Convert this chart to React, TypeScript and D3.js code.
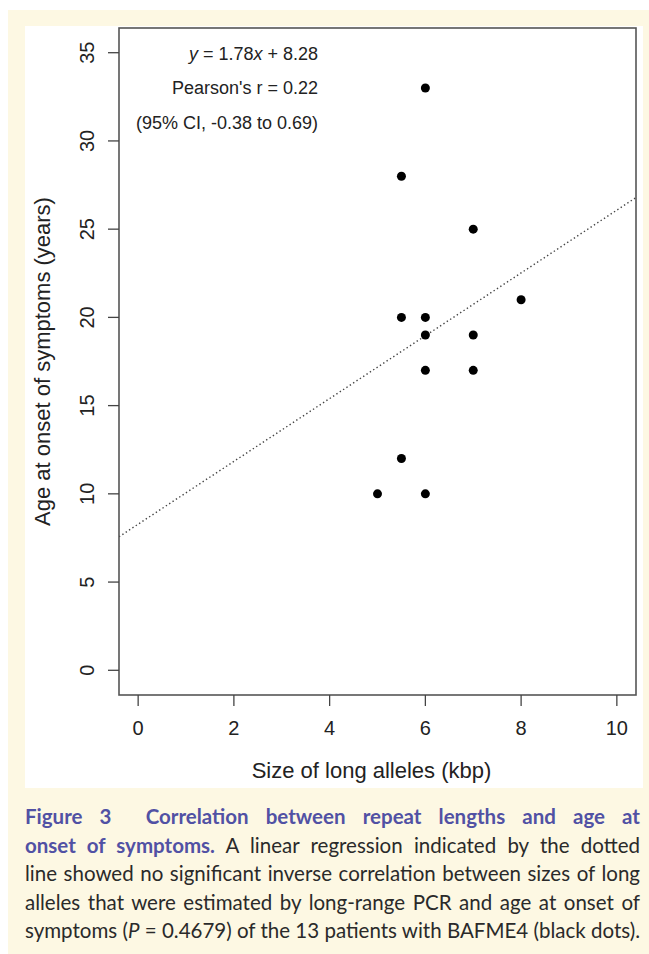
import React, { useEffect, useRef } from "react";
import * as d3 from "d3";

// allele size (kbp) and age at onset (years) for the 13 patients
const alleleSize = [6, 5.5, 7, 8, 5.5, 6, 6, 7, 6, 7, 5.5, 5, 6];
const onsetAge = [33, 28, 25, 21, 20, 20, 19, 19, 17, 17, 12, 10, 10];
const xTicks = [0, 2, 4, 6, 8, 10];
const yTicks = [0, 5, 10, 15, 20, 25, 30, 35];
const fit = { slope: 1.78, intercept: 8.28 };
const statLines = ["Pearson's r = 0.22", "(95% CI, -0.38 to 0.69)"];

const captionLines = [
  { bold: "Figure 3\u00a0\u00a0Correlation between repeat lengths and age at", rest: "" },
  { bold: "onset of symptoms.", rest: " A linear regression indicated by the dotted" },
  { bold: "", rest: "line showed no significant inverse correlation between sizes of long" },
  { bold: "", rest: "alleles that were estimated by long-range PCR and age at onset of" },
  { bold: "", rest: "symptoms (|P| = 0.4679) of the 13 patients with BAFME4 (black dots)." },
];

const W = 649;
const H = 954;
const plot = { left: 119, right: 636, top: 28, bottom: 695 };
const axisFont = "'Liberation Sans', Arial, sans-serif";
const captionFont = "Lato, 'Open Sans', sans-serif";

const App = () => {
  const capRef = useRef<SVGGElement>(null);

  const x = d3.scaleLinear().domain([-0.4, 10.4]).range([plot.left, plot.right]);
  const y = d3.scaleLinear().domain([-1.4, 36.4]).range([plot.bottom, plot.top]);

  const lineGen = d3
    .line<number>()
    .x((d) => x(d))
    .y((d) => y(fit.slope * d + fit.intercept));

  // justify the caption lines
  useEffect(() => {
    const g = d3.select(capRef.current);
    g.selectAll<SVGTextElement, unknown>("text").each(function () {
      const el = this;
      el.setAttribute("word-spacing", "0");
      const natural = el.getComputedTextLength();
      const target = 640 - 25;
      const gaps = (el.textContent || "").split(/[ \u00a0]/).length - 1;
      if (gaps > 0) {
        el.setAttribute("word-spacing", String((target - natural) / gaps));
      }
    });
  }, []);

  const renderRest = (s: string) =>
    s.split("|").map((part, i) => (
      <tspan key={i} fontStyle={i % 2 === 1 ? "italic" : "normal"}>
        {part}
      </tspan>
    ));

  return (
    <svg width={W} height={H} style={{ position: "absolute", left: 0, top: 0 }}>
      <rect x={8} y={10} width={W - 8} height={H - 10} fill="#fdf8e3" />
      <rect x={25} y={26} width={618} height={762} fill="#ffffff" />

      <defs>
        <clipPath id="plotclip">
          <rect x={plot.left} y={plot.top} width={plot.right - plot.left} height={plot.bottom - plot.top} />
        </clipPath>
      </defs>

      {/* regression line */}
      <path
        d={lineGen([-0.4, 10.4]) || ""}
        fill="none"
        stroke="#444"
        strokeWidth={1.4}
        strokeDasharray="1.4,2.6"
        clipPath="url(#plotclip)"
      />

      {alleleSize.map((v, i) => (
        <circle key={i} cx={x(v)} cy={y(onsetAge[i])} r={4.5} fill="#000" />
      ))}

      <rect
        x={plot.left}
        y={plot.top}
        width={plot.right - plot.left}
        height={plot.bottom - plot.top}
        fill="none"
        stroke="#555"
        strokeWidth={1.6}
      />

      {/* x axis */}
      {xTicks.map((t) => (
        <g key={t}>
          <line x1={x(t)} x2={x(t)} y1={plot.bottom} y2={plot.bottom + 11} stroke="#444" strokeWidth={1.3} />
          <text x={x(t)} y={735} textAnchor="middle" fontFamily={axisFont} fontSize={20} fill="#222">
            {t}
          </text>
        </g>
      ))}
      <text x={(plot.left + plot.right) / 2 - 6} y={778} textAnchor="middle" fontFamily={axisFont} fontSize={22} fill="#222">
        Size of long alleles (kbp)
      </text>

      {/* y axis */}
      {yTicks.map((t) => (
        <g key={t}>
          <line x1={plot.left - 11} x2={plot.left} y1={y(t)} y2={y(t)} stroke="#444" strokeWidth={1.3} />
          <text
            transform={`translate(94,${y(t)}) rotate(-90)`}
            textAnchor="middle"
            fontFamily={axisFont}
            fontSize={20}
            fill="#222"
          >
            {t}
          </text>
        </g>
      ))}
      <text
        transform={`translate(50,${(plot.top + plot.bottom) / 2}) rotate(-90)`}
        textAnchor="middle"
        fontFamily={axisFont}
        fontSize={22}
        fill="#222"
      >
        Age at onset of symptoms (years)
      </text>

      {/* annotation */}
      <text x={318} y={60} textAnchor="end" fontFamily={axisFont} fontSize={18} fill="#222">
        <tspan fontStyle="italic">y</tspan> = 1.78<tspan fontStyle="italic">x</tspan> + 8.28
      </text>
      {statLines.map((s, i) => (
        <text key={s} x={318} y={94 + i * 35} textAnchor="end" fontFamily={axisFont} fontSize={18} fill="#222">
          {s}
        </text>
      ))}

      {/* caption */}
      <g ref={capRef}>
        {captionLines.map((l, i) => (
          <text key={i} x={25} y={824 + i * 28.5} fontFamily={captionFont} fontSize={20.5} fill="#2a2a2a">
            {l.bold && (
              <tspan fontWeight="bold" fill="#5151a4">
                {l.bold}
              </tspan>
            )}
            {renderRest(l.rest)}
          </text>
        ))}
      </g>
    </svg>
  );
};

export default App;
